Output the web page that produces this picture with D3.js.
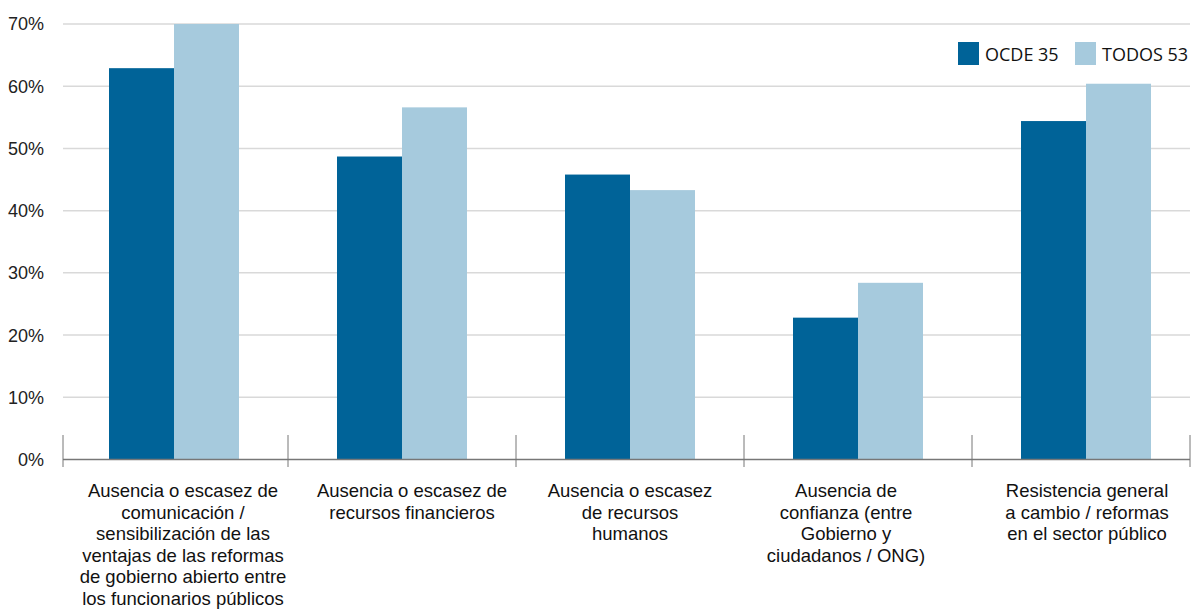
<!DOCTYPE html>
<html>
<head>
<meta charset="utf-8">
<script src="https://cdn.jsdelivr.net/npm/d3@7"></script>
<style>
  html, body { margin: 0; padding: 0; background: #ffffff; }
  svg { display: block; }
</style>
</head>
<body>
<svg id="chart" width="1198" height="613"></svg>
<script>
// Categories (label lines) and the two series, in percent
const categories = [
  ["Ausencia o escasez de", "comunicación /", "sensibilización de las", "ventajas de las reformas", "de gobierno abierto entre", "los funcionarios públicos"],
  ["Ausencia o escasez de", "recursos financieros"],
  ["Ausencia o escasez", "de recursos", "humanos"],
  ["Ausencia de", "confianza (entre", "Gobierno y", "ciudadanos / ONG)"],
  ["Resistencia general", "a cambio / reformas", "en el sector público"]
];
const ocde35 = [62.9, 48.7, 45.8, 22.8, 54.4];
const todos53 = [70.0, 56.6, 43.3, 28.4, 60.4];
const seriesNames = ["OCDE 35", "TODOS 53"];
const yTicks = [0, 10, 20, 30, 40, 50, 60, 70];

// Layout: horizontal nudge of each category label from its band centre
const labelNudge = [9, 10, 0, -12, 1];

const colors = ["#006398", "#a6cadd"];

const svg = d3.select("#chart");
const plotLeft = 63, plotRight = 1190, plotTop = 24, plotBottom = 459.5;

const x = d3.scaleBand()
  .domain(d3.range(categories.length))
  .range([60, 1200])
  .paddingInner(0)
  .paddingOuter(0);

const y = d3.scaleLinear().domain([0, 70]).range([plotBottom, plotTop]);

const groupWidth = 130;
const sub = d3.scaleBand()
  .domain(d3.range(2))
  .range([0, groupWidth]);

// Gridlines
svg.append("g")
  .selectAll("line")
  .data(yTicks.filter(d => d > 0))
  .join("line")
  .attr("x1", plotLeft).attr("x2", plotRight)
  .attr("y1", d => y(d)).attr("y2", d => y(d))
  .attr("stroke", "#d9d9d9")
  .attr("stroke-width", 1.5);

// Y tick labels
svg.append("g")
  .selectAll("text")
  .data(yTicks)
  .join("text")
  .attr("x", 44)
  .attr("y", d => y(d))
  .attr("dy", "0.36em")
  .attr("text-anchor", "end")
  .attr("font-family", "'Liberation Sans Narrow', 'Arial Narrow', 'Liberation Sans', Arial, sans-serif")
  .attr("font-size", 18)
  .attr("fill", "#222")
  .text(d => d + "%");

// Bars
const series = [ocde35, todos53];
const groups = svg.append("g")
  .selectAll("g")
  .data(categories.map((c, i) => i))
  .join("g")
  .attr("transform", i => `translate(${x(i) + x.bandwidth() / 2 - groupWidth / 2},0)`);

groups.selectAll("rect")
  .data(i => series.map((s, k) => ({ k, v: s[i] })))
  .join("rect")
  .attr("x", d => sub(d.k))
  .attr("width", sub.bandwidth())
  .attr("y", d => y(d.v))
  .attr("height", d => y(0) - y(d.v))
  .attr("fill", d => colors[d.k]);

// Category axis: baseline and separator ticks
const axis = svg.append("g");
axis.append("line")
  .attr("x1", plotLeft).attr("x2", plotRight)
  .attr("y1", plotBottom).attr("y2", plotBottom)
  .attr("stroke", "#777")
  .attr("stroke-width", 1.5);
const sepX = d3.range(categories.length + 1).map(i =>
  i === 0 ? plotLeft : i === categories.length ? plotRight : x(i));
axis.selectAll("line.sep")
  .data(sepX)
  .join("line")
  .attr("class", "sep")
  .attr("x1", d => d).attr("x2", d => d)
  .attr("y1", 435)
  .attr("y2", 467)
  .attr("stroke", "#777")
  .attr("stroke-width", 1);

// Category labels
svg.append("g")
  .selectAll("text")
  .data(categories)
  .join("text")
  .attr("text-anchor", "middle")
  .attr("font-family", "'Liberation Sans', Arial, sans-serif")
  .attr("font-size", 18.5)
  .attr("fill", "#111")
  .attr("transform", (d, i) => `translate(${x(i) + x.bandwidth() / 2 + labelNudge[i]},497)`)
  .selectAll("tspan")
  .data(d => d)
  .join("tspan")
  .attr("x", 0)
  .attr("dy", (d, j) => j === 0 ? 0 : 21.5)
  .text(d => d);

// Legend
const legend = svg.append("g").attr("transform", "translate(958,42)");
const items = legend.selectAll("g")
  .data(seriesNames)
  .join("g")
  .attr("transform", (d, i) => `translate(${i * 117},0)`);
items.append("rect")
  .attr("width", 21).attr("height", 23)
  .attr("fill", (d, i) => colors[i]);
items.append("text")
  .attr("x", 27)
  .attr("y", 18.5)
  .attr("font-family", "'Open Sans', sans-serif")
  .attr("font-size", 18)
  .attr("fill", "#111")
  .text(d => d);
</script>
</body>
</html>
